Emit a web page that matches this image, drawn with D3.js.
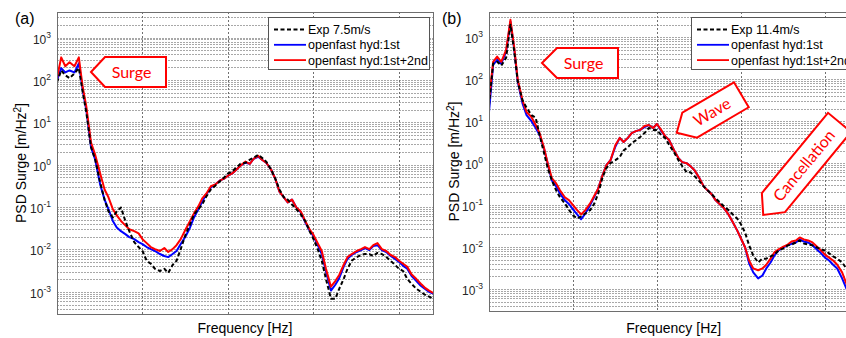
<!DOCTYPE html>
<html>
<head>
<meta charset="utf-8">
<script src="https://cdn.jsdelivr.net/npm/d3@7"></script>
<style>
  body { margin: 0; background: #fff; }
  svg { display: block; }
</style>
</head>
<body>
<svg id="chart"></svg>
<script>
// Frequency bins shared by both spectra [Hz]
const freq = [
  0.001, 0.00112, 0.00125, 0.0014, 0.0016, 0.0018, 0.002, 0.0022, 0.0025, 0.0028,
  0.0032, 0.0036, 0.004, 0.0045, 0.005, 0.0056, 0.0063, 0.007, 0.008, 0.009,
  0.01, 0.0112, 0.0125, 0.014, 0.016, 0.018, 0.02, 0.0225, 0.025, 0.028,
  0.032, 0.036, 0.04, 0.045, 0.05, 0.056, 0.063, 0.071, 0.08, 0.09,
  0.1, 0.112, 0.125, 0.14, 0.16, 0.18, 0.2, 0.225, 0.25, 0.28,
  0.32, 0.36, 0.4, 0.45, 0.5, 0.56, 0.63, 0.71, 0.8, 0.9,
  1, 1.12, 1.25, 1.4, 1.6, 1.8, 2, 2.25, 2.5, 2.8,
  3.2, 3.6, 4, 4.5, 5, 5.6, 6.3, 7.1, 8, 9,
  10, 11.2, 12.5, 14, 16, 18, 20, 22.5, 25
];

// (a) 7.5 m/s : surge PSD [m^2/Hz]
const expA = [
  88, 167, 129, 110, 142, 190, 51, 17.4, 2.6, 1.31,
  0.38, 0.15, 0.079, 0.057, 0.079, 0.098, 0.047, 0.027, 0.0149, 0.0114,
  0.0092, 0.0054, 0.0046, 0.0035, 0.0031, 0.0035, 0.0028, 0.0043, 0.0054, 0.0102,
  0.023, 0.039, 0.067, 0.089, 0.115, 0.18, 0.26, 0.32, 0.40, 0.50,
  0.62, 0.69, 0.85, 1.05, 1.11, 1.31, 1.46, 1.7, 1.46, 1.18,
  0.76, 0.45, 0.26, 0.17, 0.15, 0.115, 0.089, 0.067, 0.047, 0.027,
  0.0175, 0.0102, 0.0054, 0.0020, 0.00069, 0.00069, 0.00118, 0.0020, 0.0035, 0.0054,
  0.0066, 0.0074, 0.0078, 0.0078, 0.0070, 0.0083, 0.0078, 0.0066, 0.0054, 0.0043,
  0.0035, 0.0031, 0.0020, 0.00155, 0.00118, 0.00100, 0.00086, 0.00077, 0.00069
];
const hyd1A = [
  98, 190, 150, 167, 150, 245, 57, 19.5, 2.6, 1.31,
  0.34, 0.15, 0.089, 0.047, 0.033, 0.027, 0.023, 0.0195, 0.0175, 0.0149,
  0.0134, 0.0114, 0.0102, 0.0092, 0.0078, 0.0070, 0.0066, 0.0078, 0.0092, 0.0134,
  0.0205, 0.033, 0.057, 0.089, 0.135, 0.20, 0.29, 0.34, 0.42, 0.47,
  0.55, 0.62, 0.76, 0.95, 1.11, 1.05, 1.38, 1.54, 1.31, 1.11,
  0.76, 0.45, 0.23, 0.17, 0.129, 0.15, 0.098, 0.075, 0.044, 0.028,
  0.0205, 0.0126, 0.0078, 0.0030, 0.00107, 0.00147, 0.0021, 0.0039, 0.0060, 0.0074,
  0.0087, 0.0097, 0.0108, 0.0097, 0.012, 0.0126, 0.0097, 0.0087, 0.0070, 0.0060,
  0.0051, 0.0041, 0.0035, 0.0024, 0.0018, 0.00139, 0.00118, 0.00100, 0.00091
];
const hyd12A = [
  110, 340, 210, 260, 210, 340, 67, 24, 3.3, 1.7,
  0.62, 0.26, 0.17, 0.089, 0.064, 0.047, 0.037, 0.030, 0.027, 0.024,
  0.0175, 0.0141, 0.0114, 0.0102, 0.0092, 0.0108, 0.0087, 0.0102, 0.0126, 0.0175,
  0.030, 0.047, 0.071, 0.104, 0.16, 0.21, 0.31, 0.34, 0.42, 0.47,
  0.55, 0.62, 0.76, 0.95, 1.18, 1.05, 1.38, 1.62, 1.31, 1.11,
  0.76, 0.45, 0.23, 0.17, 0.129, 0.15, 0.098, 0.079, 0.047, 0.030,
  0.022, 0.0141, 0.0092, 0.0035, 0.00132, 0.0018, 0.0025, 0.0043, 0.0066, 0.0078,
  0.0092, 0.0102, 0.0114, 0.0102, 0.0126, 0.0141, 0.0102, 0.0092, 0.0074, 0.0066,
  0.0054, 0.0046, 0.0039, 0.0026, 0.0020, 0.00155, 0.00126, 0.00107, 0.00095
];

// (b) 11.4 m/s
const expB = [
  24, 235, 260, 210, 325, 2000, 450, 87, 32, 21,
  14, 12, 4.7, 1.8, 0.76, 0.39, 0.225, 0.154, 0.11, 0.076,
  0.057, 0.048, 0.054, 0.063, 0.076, 0.11, 0.19, 0.46, 0.76, 1.0,
  1.18, 1.39, 2.0, 2.4, 3.0, 3.5, 4.2, 5.2, 6.9, 6.2,
  6.2, 4.7, 4.0, 2.7, 1.8, 1.18, 0.85, 0.61, 0.61, 0.49,
  0.37, 0.28, 0.225, 0.18, 0.145, 0.117, 0.093, 0.076, 0.060, 0.048,
  0.035, 0.022, 0.011, 0.0063, 0.0043, 0.0053, 0.0053, 0.006, 0.0066, 0.0083,
  0.0093, 0.011, 0.0115, 0.0129, 0.0144, 0.0122, 0.0115, 0.011, 0.0098, 0.0088,
  0.0083, 0.0071, 0.006, 0.0053, 0.0043, 0.0031, 0.0025, 0.0021, 0.0018
];
const hyd1B = [
  16.6, 220, 290, 235, 450, 2350, 500, 87, 27, 14,
  10, 6.9, 4.7, 2.3, 0.95, 0.39, 0.28, 0.19, 0.13, 0.105,
  0.079, 0.060, 0.046, 0.063, 0.1, 0.16, 0.25, 0.52, 0.9, 1.18,
  2.5, 4.0, 3.2, 4.0, 5.2, 5.8, 6.2, 7.2, 8.1, 6.9,
  8.6, 5.9, 4.4, 3.5, 2.0, 1.32, 1.06, 1.0, 0.85, 0.68,
  0.44, 0.28, 0.225, 0.18, 0.13, 0.105, 0.084, 0.060, 0.039, 0.025,
  0.016, 0.0098, 0.0041, 0.0025, 0.0018, 0.0021, 0.0031, 0.0043, 0.0063, 0.0083,
  0.0098, 0.011, 0.012, 0.0129, 0.0152, 0.0136, 0.0129, 0.011, 0.0088, 0.0071,
  0.0056, 0.0048, 0.0038, 0.0031, 0.0018, 0.00102, 0.00082, 0.00069, 0.00059
];
const hyd12B = [
  32, 260, 345, 260, 500, 2600, 560, 97, 32, 16.6,
  12.6, 8.1, 5.2, 2.4, 1.0, 0.44, 0.33, 0.225, 0.154, 0.13,
  0.1, 0.076, 0.060, 0.076, 0.11, 0.17, 0.25, 0.52, 0.9, 1.18,
  2.7, 4.0, 3.2, 4.0, 5.2, 5.8, 6.2, 7.7, 8.1, 6.9,
  8.6, 6.2, 4.4, 3.5, 2.0, 1.32, 1.06, 1.0, 0.85, 0.68,
  0.44, 0.28, 0.225, 0.18, 0.13, 0.105, 0.084, 0.060, 0.039, 0.025,
  0.016, 0.0098, 0.0048, 0.0031, 0.0028, 0.0031, 0.0038, 0.0053, 0.0075, 0.0088,
  0.0103, 0.0115, 0.0136, 0.0144, 0.017, 0.0152, 0.0144, 0.0129, 0.0103, 0.0083,
  0.0066, 0.0056, 0.0048, 0.0038, 0.0025, 0.00135, 0.00102, 0.00082, 0.00069
];

const namesA = ["Exp 7.5m/s", "openfast hyd:1st", "openfast hyd:1st+2nd"];
const namesB = ["Exp 11.4m/s", "openfast hyd:1st", "openfast hyd:1st+2nd"];
const yTicks = [1e-3, 1e-2, 1e-1, 1e0, 1e1, 1e2, 1e3];
const xGrid = [0.01, 0.1, 1, 10];

const freqDomain = [0.001, 25];
const psdDomain = [3e-4, 4e3];

// Exp dashed black, 1st-order blue, 1st+2nd red
const styles = [
  { color: "#000000", dash: "4,2.5" },
  { color: "#0000ff", dash: null },
  { color: "#ff0000", dash: null }
];
const drawOrder = [1, 2, 0];

const width = 846;
const height = 338;

const svg = d3.select("#chart")
    .attr("width", width)
    .attr("height", height)
    .attr("viewBox", [0, 0, width, height])
    .attr("font-family", "'Liberation Sans', Arial, sans-serif");

const panels = [
  {
    id: "a", tag: "(a)", tagX: 15, left: 57, top: 12, right: 433, bottom: 314, labelX: 26,
    series: [expA, hyd1A, hyd12A], names: namesA, legendX: 268,
    callouts: [
      { text: "Surge", cx: 135.5, cy: 72, w: 61, h: 30, tip: 14, angle: 0 }
    ]
  },
  {
    id: "b", tag: "(b)", tagX: 442, left: 489, top: 12, right: 858.4, bottom: 311, labelX: 459,
    series: [expB, hyd1B, hyd12B], names: namesB, legendX: 691,
    callouts: [
      { text: "Surge", cx: 587.5, cy: 63, w: 61, h: 30, tip: 15, angle: 0 },
      { text: "Wave", cx: 715.5, cy: 110, w: 60, h: 29, tip: 15, angle: -30.5 },
      { text: "Cancellation", cx: 806.5, cy: 162.5, w: 104, h: 30, tip: 16, angle: -50.5 }
    ]
  }
];

// Left-pointing arrow box, drawn around its body centre
function drawCallout(parent, c) {
  const pts = [
    [-c.w / 2 - c.tip, 0], [-c.w / 2, -c.h / 2], [c.w / 2, -c.h / 2],
    [c.w / 2, c.h / 2], [-c.w / 2, c.h / 2]
  ];
  const g = parent.append("g")
      .attr("transform", `translate(${c.cx},${c.cy}) rotate(${c.angle})`);
  g.append("path")
      .attr("d", d3.line()(pts) + "Z")
      .attr("fill", "#fff")
      .attr("stroke", "#ff0000")
      .attr("stroke-width", 2)
      .attr("stroke-linejoin", "miter");
  g.append("text")
      .attr("x", -4)
      .attr("y", 0)
      .attr("dy", "0.35em")
      .attr("text-anchor", "middle")
      .attr("font-family", "Lato, 'Open Sans', sans-serif")
      .attr("font-size", 16)
      .attr("fill", "#ff0000")
      .text(c.text);
}

panels.forEach(p => {
  const x = d3.scaleLog().domain(freqDomain).range([p.left, p.right]);
  const y = d3.scaleLog().domain(psdDomain).range([p.bottom, p.top]);
  const g = svg.append("g");

  svg.append("clipPath")
      .attr("id", `clip-${p.id}`)
    .append("rect")
      .attr("x", p.left)
      .attr("y", p.top)
      .attr("width", p.right - p.left)
      .attr("height", p.bottom - p.top);

  // Grid: every 1..9 x 10^n on psd, decades only on frequency
  const grid = g.append("g").attr("shape-rendering", "crispEdges");
  grid.selectAll(".hg")
    .data(y.ticks())
    .join("line")
      .attr("x1", p.left)
      .attr("x2", p.right)
      .attr("y1", d => Math.round(y(d)) + 0.5)
      .attr("y2", d => Math.round(y(d)) + 0.5)
      .attr("stroke", "#a8a8a8")
      .attr("stroke-dasharray", "2,1");
  grid.selectAll(".vg")
    .data(xGrid)
    .join("line")
      .attr("x1", d => Math.round(x(d)) + 0.5)
      .attr("x2", d => Math.round(x(d)) + 0.5)
      .attr("y1", p.top)
      .attr("y2", p.bottom)
      .attr("stroke", "#707070")
      .attr("stroke-dasharray", "2,2");

  const line = d3.line()
      .x((d, i) => x(freq[i]))
      .y(d => y(d));

  g.append("g")
      .attr("clip-path", `url(#clip-${p.id})`)
    .selectAll("path")
    .data(drawOrder)
    .join("path")
      .attr("fill", "none")
      .attr("stroke", k => styles[k].color)
      .attr("stroke-width", 2)
      .attr("stroke-dasharray", k => styles[k].dash)
      .attr("stroke-linejoin", "round")
      .attr("d", k => line(p.series[k]));

  // Axes box
  g.append("rect")
      .attr("x", p.left + 0.5)
      .attr("y", p.top + 0.5)
      .attr("width", p.right - p.left)
      .attr("height", p.bottom - p.top)
      .attr("fill", "none")
      .attr("stroke", "#6e6e6e")
      .attr("shape-rendering", "crispEdges");

  // 10^n tick labels
  g.append("g")
      .attr("font-size", 12)
      .attr("fill", "#262626")
    .selectAll("text")
    .data(yTicks)
    .join("text")
      .attr("x", p.left - 6)
      .attr("y", d => y(d) + 6)
      .attr("text-anchor", "end")
      .each(function(d) {
        const t = d3.select(this);
        t.append("tspan").text("10");
        t.append("tspan")
            .attr("dy", -6)
            .attr("font-size", 8.5)
            .text(Math.round(Math.log10(d)));
      });

  p.callouts.forEach(c => drawCallout(g, c));

  // Legend
  const lg = g.append("g")
      .attr("transform", `translate(${p.legendX},17)`);
  lg.append("rect")
      .attr("x", 0.5)
      .attr("y", 0.5)
      .attr("width", 161)
      .attr("height", 52)
      .attr("fill", "#fff")
      .attr("stroke", "#555")
      .attr("shape-rendering", "crispEdges");
  const rows = lg.selectAll(".row")
    .data(p.names)
    .join("g")
      .attr("transform", (d, i) => `translate(0,${12.5 + i * 15.3})`);
  rows.append("line")
      .attr("x1", 6)
      .attr("x2", 38)
      .attr("stroke", (d, i) => styles[i].color)
      .attr("stroke-width", 1.8)
      .attr("stroke-dasharray", (d, i) => styles[i].dash);
  rows.append("text")
      .attr("x", 40)
      .attr("y", 4.5)
      .attr("font-size", 12.5)
      .attr("fill", "#000")
      .text(d => d);

  // Axis titles and panel tag
  const yl = g.append("text")
      .attr("transform", `translate(${p.labelX},${(p.top + p.bottom) / 2}) rotate(-90)`)
      .attr("text-anchor", "middle")
      .attr("font-size", 14)
      .attr("fill", "#000");
  yl.append("tspan").text("PSD Surge [m/Hz");
  yl.append("tspan").attr("dy", -5).attr("font-size", 10).text("2");
  yl.append("tspan").attr("dy", 5).text("]");

  g.append("text")
      .attr("x", (p.left + p.right) / 2)
      .attr("y", 333)
      .attr("text-anchor", "middle")
      .attr("font-size", 14)
      .attr("fill", "#000")
      .text("Frequency [Hz]");

  g.append("text")
      .attr("x", p.tagX)
      .attr("y", 24)
      .attr("font-size", 16)
      .attr("fill", "#000")
      .text(p.tag);
});
</script>
</body>
</html>
